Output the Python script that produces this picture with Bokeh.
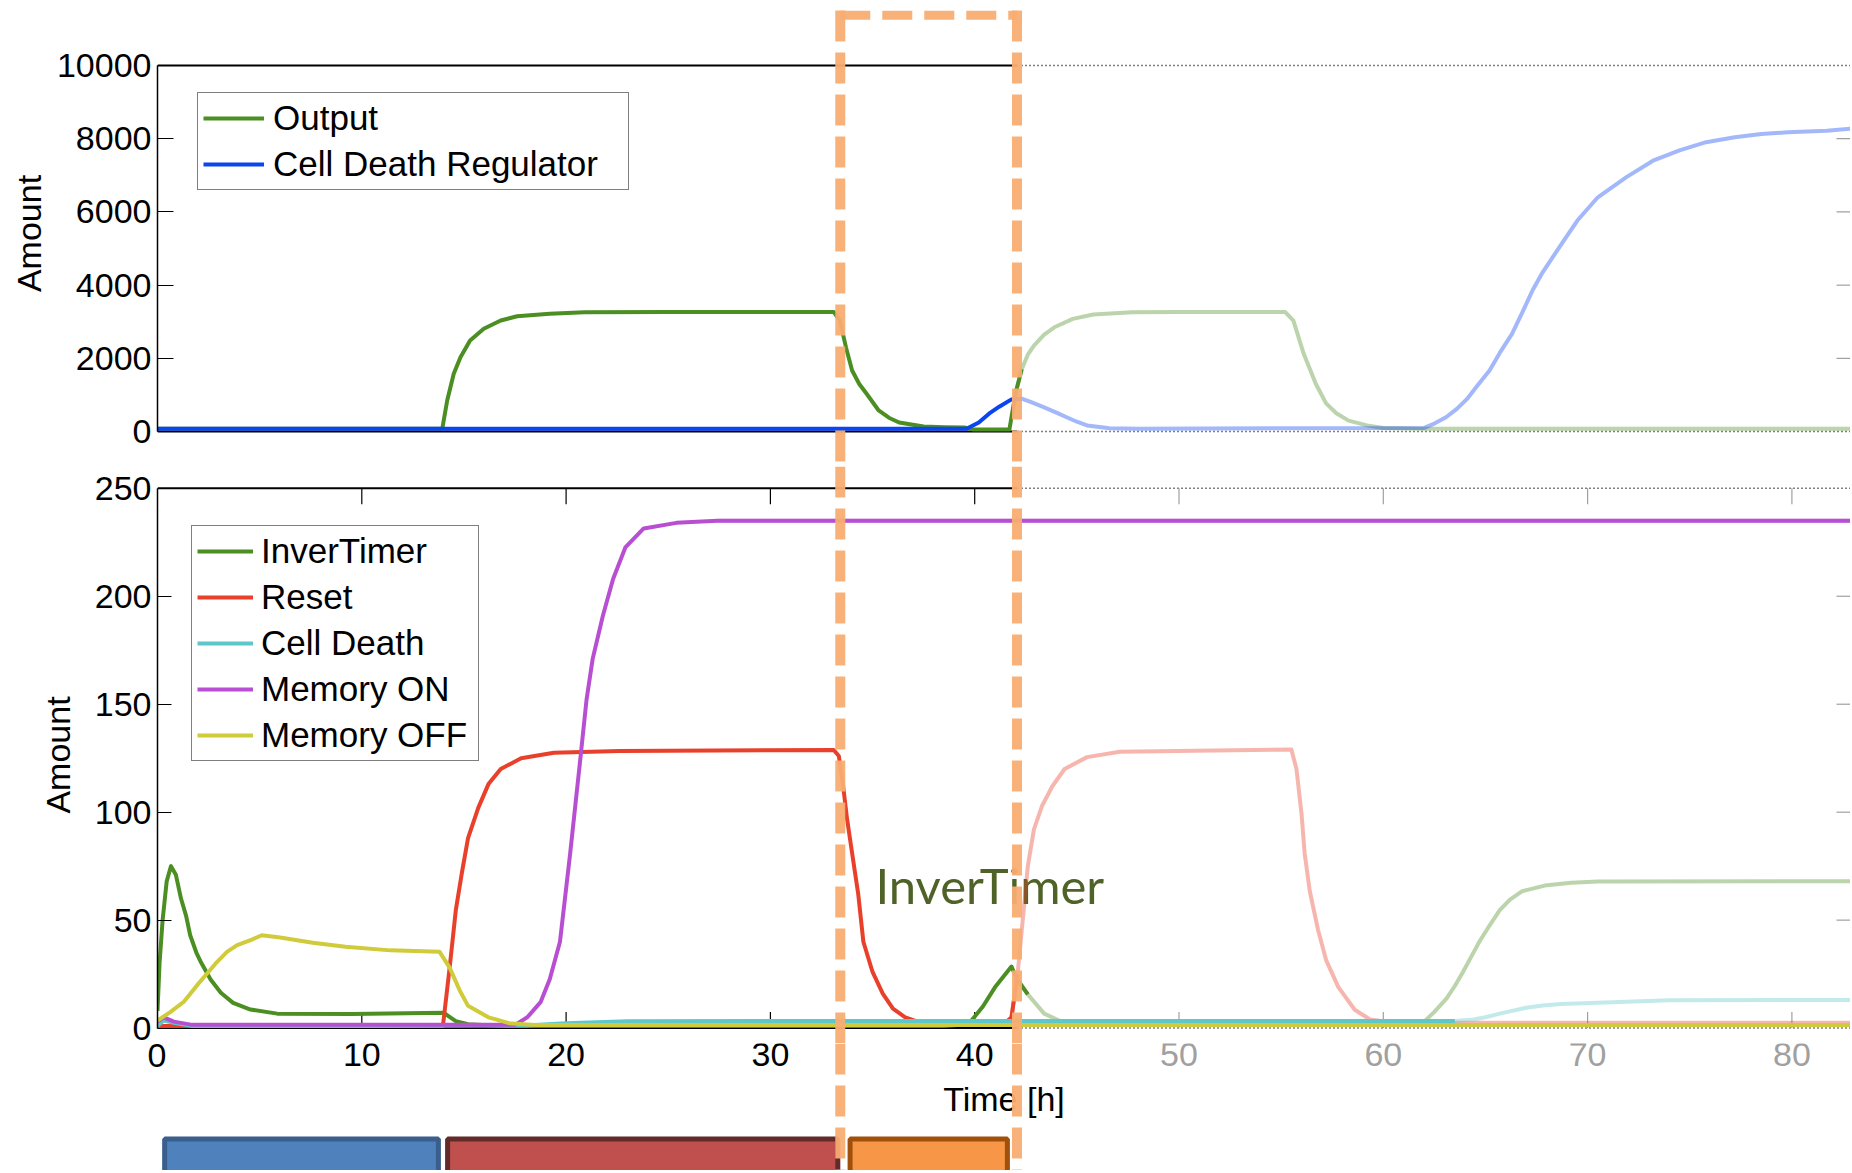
import numpy as np
from bokeh.plotting import figure
from bokeh.models import (Range1d, LinearAxis, FixedTicker, Span, Legend, LegendItem,
                          ColumnDataSource, LabelSet)
from bokeh.layouts import column
from bokeh.embed import file_html
from bokeh.resources import INLINE
from bokeh.core.properties import value

# ---------------- data ----------------
X_TICKS = [0, 10, 20, 30, 40, 50, 60, 70, 80]
X_TICK_LABELS = ["0", "10", "20", "30", "40", "50", "60", "70", "80"]
A_TICKS = [0, 2000, 4000, 6000, 8000, 10000]
B_TICKS = [0, 50, 100, 150, 200, 250]

# top panel: Output
OUT_T = [0, 13.94, 14.18, 14.5, 14.83, 15.3, 15.97, 16.8, 17.6, 19.2,
         20.9, 25.0, 33.1, 33.4, 33.7, 34.0, 34.35, 34.7, 35.3, 35.8,
         36.3, 37.5, 38.5, 39.5, 39.9, 41.7, 42.0, 42.3, 42.6, 42.9,
         43.4, 43.9, 44.8, 45.8, 47.7, 50.0, 55.2, 55.6, 56.1, 56.7,
         57.2, 57.7, 58.3, 59.2, 60.0, 62.0, 70.0, 83.0]
OUT_V = [80, 80, 850, 1580, 2030, 2490, 2810, 3035, 3150, 3220,
         3260, 3270, 3270, 3030, 2300, 1670, 1300, 1040, 577, 380,
         250, 140, 120, 110, 60, 60, 1050, 1700, 2100, 2350,
         2650, 2850, 3080, 3200, 3260, 3270, 3265, 3030, 2130, 1300,
         770, 500, 300, 170, 100, 80, 80, 80]
# top panel: Cell Death Regulator
CDR_T = [0, 39.6, 40.2, 40.7, 41.2, 41.8, 42.3, 42.8, 43.4, 44.0,
         44.5, 45.0, 45.5, 46.6, 48.0, 62.0, 62.5, 63.07, 63.6, 64.1,
         64.6, 65.2, 65.7, 66.3, 66.8, 67.3, 67.8, 68.4, 69.0, 69.5,
         70.5, 71.9, 73.2, 74.5, 75.8, 77.2, 78.5, 79.8, 81.7, 83.0]
CDR_V = [80, 80, 250, 490, 680, 880, 900, 800, 664, 520,
         391, 270, 167, 90, 80, 100, 220, 391, 620, 893,
         1250, 1667, 2150, 2670, 3250, 3852, 4350, 4855, 5350, 5765,
         6400, 6950, 7400, 7680, 7905, 8040, 8130, 8175, 8220, 8280]

# bottom panel
INV_T = [0, 0.1, 0.25, 0.45, 0.66, 0.9, 1.15, 1.4, 1.6, 1.9,
         2.1, 2.6, 3.1, 3.7, 4.55, 5.86, 9.5, 14.0, 14.6, 15.2,
         15.9, 17.0, 30.0, 38.5, 39.3, 39.8, 40.4, 41.0, 41.8, 42.05,
         42.6, 43.4, 44.2, 45.0, 50.0, 61.5, 62.0, 62.5, 63.1, 63.5,
         63.9, 64.3, 64.7, 65.2, 65.7, 66.2, 66.8, 67.9, 69.2, 70.5,
         83.0]
INV_V = [8, 30, 50, 68, 75, 71, 60, 52, 43, 35,
         31, 22.5, 16.4, 11.7, 8.6, 6.7, 6.5, 7.1, 3.2, 1.8,
         1.4, 1.0, 1.0, 1.0, 1.5, 3.0, 10.0, 19.0, 28.5, 23.0,
         15.6, 6.7, 3.2, 2.0, 1.5, 1.5, 3.0, 7.5, 13.8, 19.5,
         26.0, 33.0, 40.0, 47.5, 54.6, 59.5, 63.4, 66.0, 67.3, 67.9,
         68.0]
RES_T = [0, 13.97, 14.3, 14.6, 14.9, 15.2, 15.7, 16.2, 16.8, 17.8,
         19.4, 22.6, 33.1, 33.35, 33.55, 33.75, 34.0, 34.3, 34.55, 35.0,
         35.5, 36.0, 36.6, 37.2, 38.0, 41.5, 41.8, 42.1, 42.35, 42.6,
         42.9, 43.3, 43.8, 44.4, 45.5, 47.1, 55.5, 55.75, 56.0, 56.15,
         56.4, 56.8, 57.2, 57.8, 58.6, 59.35, 60.5, 83.0]
RES_V = [1, 1, 28, 54.5, 72, 88, 102, 113, 120, 125,
         127.5, 128.3, 128.8, 126, 113, 97, 81, 62, 40, 26,
         16, 9, 5, 3, 2.5, 2.5, 5, 25, 50, 75,
         92, 103, 112, 120, 125.5, 128, 129, 120, 99, 81,
         63.5, 45.7, 31.5, 19, 8.5, 4, 2.5, 2.5]
CD_T = [0, 0.3, 0.8, 1.7, 10, 18, 20, 23, 40, 63.5,
        64.4, 65.0, 65.7, 66.3, 67.0, 67.8, 68.7, 70.5, 74.0, 83.0]
CD_V = [1, 3.5, 2.5, 1.0, 1.0, 1.2, 2.3, 3.2, 3.3, 3.3,
        4.0, 5.0, 6.7, 8.0, 9.4, 10.5, 11.2, 11.7, 12.9, 13.0]
MON_T = [0, 0.3, 0.8, 1.7, 10, 17.5, 18.1, 18.75, 19.2, 19.7,
         20.2, 20.7, 21.0, 21.3, 21.8, 22.3, 22.9, 23.8, 25.4, 27.4, 83.0]
MON_V = [3, 5, 3, 1.5, 1.5, 1.5, 5, 12, 22.6, 40,
         81, 125, 152, 171, 191, 208, 222.6, 231.4, 234, 235, 235]
MOFF_T = [0, 0.64, 1.29, 1.94, 2.43, 2.92, 3.4, 3.9, 4.55, 5.1,
          6.0, 7.6, 9.2, 11.4, 13.8, 14.3, 14.8, 15.2, 16.2, 17.2, 18.5, 83.0]
MOFF_V = [3.5, 7.5, 12.2, 19.9, 25.3, 30.7, 35.3, 38.4, 40.7, 43,
          42, 39.5, 37.7, 36, 35.4, 28, 17.3, 10.3, 5, 2.3, 1.4, 1.4]

# phase bars below the time axis
PHASE_START = [0.35, 14.2, 33.9]
PHASE_END = [13.75, 33.3, 41.6]
PHASE_FILL = ["#4f81bd", "#c0504d", "#f79646"]
PHASE_LINE = ["#3a5f8c", "#632a2a", "#a0500a"]

# highlighted window
T_LEFT = 33.42
T_RIGHT = 42.07
T_FADE = 42.07

# ---------------- styles / layout ----------------
GREEN = "#4b8f22"
BLUE = "#0b45f2"
RED = "#e8402a"
CYAN = "#5ec7c9"
PURPLE = "#b84fd2"
YELLOW = "#cfcb3a"
ORANGE = "#f8ad72"
TEXT_GREEN = "#4f6228"
GRAY = "#a0a0a0"
DARKGRAY = "#808080"
FADE_ALPHA = 0.38
LW = 4
FONT = "Liberation Sans"

W = 1850
LEFT = 157
PPH = 20.43                      # px per hour
X_END = (W - LEFT) / PPH
xr = Range1d(0, X_END)
TICK_X_LEN = 14 / PPH            # right-side tick length in hours

# top panel geometry (px from page top)
A_H = 466
A_PX_TOP_TICK = 65.0
A_PX_ZERO = 431.1
A_UPP = 10000.0 / (A_PX_ZERO - A_PX_TOP_TICK)
A_Y_END = 10000 + A_PX_TOP_TICK * A_UPP
A_Y_START = -(A_H - A_PX_ZERO) * A_UPP
A_BOX_Y = 10000 + (A_PX_TOP_TICK - 14.7) * A_UPP
A_LINE_TOP = 10000 + (A_PX_TOP_TICK - 10.0) * A_UPP

# bottom panel geometry
B_PX_TOP_TICK = 487.8
B_PX_ZERO = 1027.6
C_TOP_PX = 1043
B_H = C_TOP_PX - A_H
B_UPP = 250.0 / (B_PX_ZERO - B_PX_TOP_TICK)
B_Y_END = 250 + (B_PX_TOP_TICK - A_H) * B_UPP
B_Y_START = -(C_TOP_PX - B_PX_ZERO) * B_UPP
B_TICK_LEN = 16 * B_UPP
C_H = 1170 - C_TOP_PX


def make_fig(h, yr):
    p = figure(width=W, height=h, x_range=xr, y_range=yr, output_backend="svg",
               toolbar_location=None, tools="", x_axis_location=None, y_axis_location=None,
               min_border_left=LEFT, min_border_right=0, min_border_top=0,
               min_border_bottom=0)
    p.outline_line_color = None
    p.grid.visible = False
    p.background_fill_color = "white"
    p.border_fill_color = "white"
    return p


def left_axis(ticks, top, label_standoff, tick_in):
    return LinearAxis(ticker=FixedTicker(ticks=ticks), axis_label="Amount",
                      bounds=(0, top), axis_line_color="black", axis_line_width=1.5,
                      major_tick_in=tick_in, major_tick_out=0, minor_tick_line_color=None,
                      major_tick_line_width=1.2,
                      major_label_standoff=6, axis_label_standoff=label_standoff,
                      major_label_text_font=FONT, major_label_text_font_size="34px",
                      major_label_text_color="black",
                      axis_label_text_font=FONT, axis_label_text_font_size="34px",
                      axis_label_text_font_style="normal", axis_label_text_color="black")


def box_line(p, yv):
    p.line([0, T_FADE], [yv, yv], line_color="black", line_width=2)
    p.line([T_FADE, X_END], [yv, yv], line_color=DARKGRAY, line_width=1.5, line_dash="2 2")


def right_ticks(p, ticks):
    p.segment(x0=[X_END] * len(ticks), x1=[X_END - TICK_X_LEN] * len(ticks),
              y0=ticks, y1=ticks, line_color=GRAY, line_width=1.2)


def draw_series(p, t, v, color):
    t = np.asarray(t, float)
    v = np.asarray(v, float)
    k = int(np.searchsorted(t, T_FADE))
    p.line(t[max(k - 1, 0):], v[max(k - 1, 0):], line_color=color, line_width=LW,
           line_alpha=FADE_ALPHA, line_join="round")
    return p.line(t[:k + 1], v[:k + 1], line_color=color, line_width=LW, line_join="round")


def orange_spans(p):
    for loc in (T_LEFT, T_RIGHT):
        p.add_layout(Span(location=loc, dimension="height", line_color=ORANGE,
                          line_width=10, line_dash="31 11", line_alpha=0.95))


# ---------------- top panel ----------------
pA = make_fig(A_H, Range1d(A_Y_START, A_Y_END))
pA.add_layout(left_axis(A_TICKS, 10000, 6, 16), "left")
box_line(pA, 0)
box_line(pA, 10000)
right_ticks(pA, [2000, 4000, 6000, 8000])

r_out = draw_series(pA, OUT_T, OUT_V, GREEN)
r_cdr = draw_series(pA, CDR_T, CDR_V, BLUE)

legA = Legend(items=[LegendItem(label="Output", renderers=[r_out]),
                     LegendItem(label="Cell Death Regulator", renderers=[r_cdr])],
              location=(40, A_H - 190), margin=0, padding=5, spacing=6,
              glyph_width=61, glyph_height=40, label_height=40, label_width=350,
              label_standoff=9, label_text_font=FONT, label_text_font_size="35px",
              label_text_color="black", border_line_color="black", border_line_width=1.5,
              background_fill_color="white", background_fill_alpha=1)
pA.add_layout(legA)

pA.segment(x0=[T_LEFT], x1=[T_RIGHT], y0=[A_BOX_Y], y1=[A_BOX_Y], line_color=ORANGE,
           line_width=9, line_dash="30 12", line_alpha=0.95)
pA.segment(x0=[T_LEFT, T_RIGHT], x1=[T_LEFT, T_RIGHT], y0=[A_LINE_TOP] * 2,
           y1=[A_Y_START] * 2, line_color=ORANGE, line_width=10, line_dash="31 11",
           line_alpha=0.95)

# ---------------- bottom panel ----------------
pB = make_fig(B_H, Range1d(B_Y_START, B_Y_END))
pB.add_layout(left_axis(B_TICKS, 250, 15, 14), "left")
box_line(pB, 0)
box_line(pB, 250)
right_ticks(pB, [50, 100, 150, 200])
inner_x = X_TICKS[1:]
tick_col = ["black" if t <= T_FADE else GRAY for t in inner_x]
xt_src = ColumnDataSource(dict(x=inner_x, c=tick_col))
pB.segment(x0="x", x1="x", y0=250, y1=250 - B_TICK_LEN, line_color="c",
           line_width=1.2, source=xt_src)
pB.segment(x0="x", x1="x", y0=0, y1=B_TICK_LEN, line_color="c",
           line_width=1.2, source=xt_src)

pB.text(x=[35.14], y=[66.3], text=["InverTimer"], text_font=value("Lato"),
        text_font_size=value("49px"), text_color=TEXT_GREEN, text_baseline="middle",
        text_align="left")

r_inv = draw_series(pB, INV_T, INV_V, GREEN)
r_res = draw_series(pB, RES_T, RES_V, RED)
r_cd = draw_series(pB, CD_T, CD_V, CYAN)
r_mon = draw_series(pB, MON_T, MON_V, PURPLE)
r_moff = draw_series(pB, MOFF_T, MOFF_V, YELLOW)

legB = Legend(items=[LegendItem(label="InverTimer", renderers=[r_inv]),
                     LegendItem(label="Reset", renderers=[r_res]),
                     LegendItem(label="Cell Death", renderers=[r_cd]),
                     LegendItem(label="Memory ON", renderers=[r_mon]),
                     LegendItem(label="Memory OFF", renderers=[r_moff])],
              location=(34, B_H - (761 - A_H)), margin=0, padding=5, spacing=6,
              glyph_width=56, glyph_height=40, label_height=40, label_width=212,
              label_standoff=8, label_text_font=FONT, label_text_font_size="35px",
              label_text_color="black", border_line_color="black", border_line_width=1.5,
              background_fill_color="white", background_fill_alpha=1)
pB.add_layout(legB)
orange_spans(pB)

# ---------------- time axis labels and phase bars ----------------
C_TICK_ROW = 1170 - 1054
C_TIME_ROW = 1170 - 1098
C_BAR_TOP = 1170 - 1138.5
C_BAR_BOTTOM = -10.0

pC = make_fig(C_H, Range1d(0, C_H))
# the "0" under the left edge is drawn by a label-only axis so it is not clipped by the frame
zero_axis = LinearAxis(ticker=FixedTicker(ticks=[C_TICK_ROW]),
                       major_label_overrides={C_TICK_ROW: X_TICK_LABELS[0]},
                       major_label_standoff=-9, major_tick_in=0, major_tick_out=0,
                       major_tick_line_color=None, minor_tick_line_color=None,
                       axis_line_color=None, major_label_text_font=FONT,
                       major_label_text_font_size="34px", major_label_text_color="black")
pC.add_layout(zero_axis, "left")
tick_src = ColumnDataSource(dict(
    x=X_TICKS[1:], y=[C_TICK_ROW] * (len(X_TICKS) - 1), text=X_TICK_LABELS[1:],
    color=["black" if t <= T_FADE else GRAY for t in X_TICKS[1:]]))
pC.add_layout(LabelSet(x="x", y="y", text="text", text_color="color", source=tick_src,
                       text_font=value(FONT), text_font_size=value("34px"),
                       text_align="center", text_baseline="middle"))
pC.text(x=[X_END / 2], y=[C_TIME_ROW], text=["Time [h]"], text_font=value(FONT),
        text_font_size=value("34px"), text_color="black", text_align="center",
        text_baseline="middle")
bar_src = ColumnDataSource(dict(left=PHASE_START, right=PHASE_END, fill=PHASE_FILL,
                                line=PHASE_LINE))
pC.quad(left="left", right="right", top=C_BAR_TOP, bottom=C_BAR_BOTTOM, source=bar_src,
        fill_color="fill", line_color="line", line_width=5)
orange_spans(pC)

layout = column(pA, pB, pC, spacing=0)
open("out.html", "w").write(file_html(layout, INLINE))
